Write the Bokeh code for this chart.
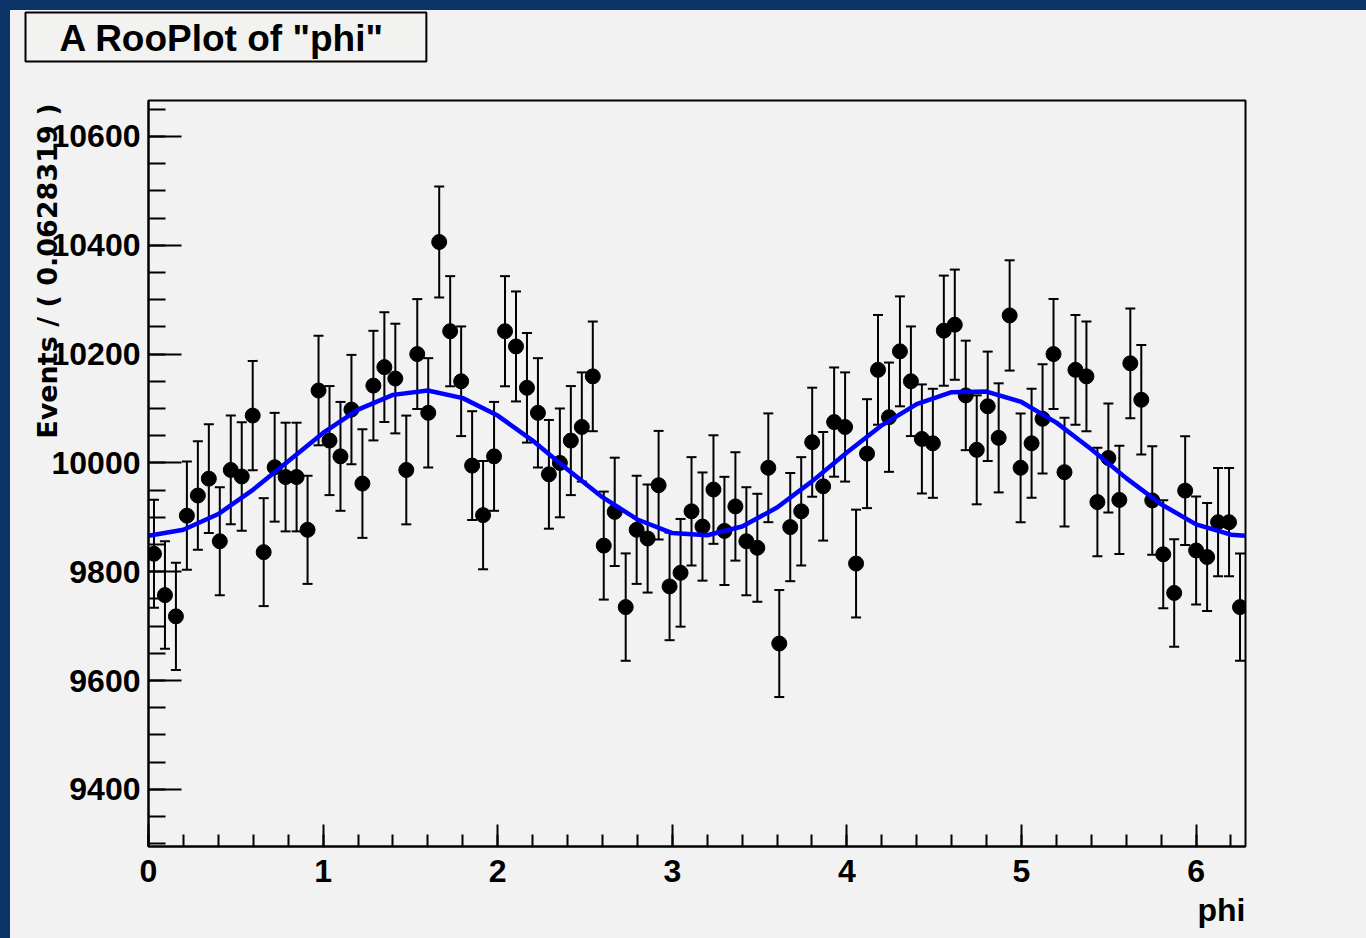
import numpy as np
from bokeh.plotting import figure
from bokeh.models import (Range1d, FixedTicker, ColumnDataSource, Whisker, Title,
                          TeeHead, GlobalInlineStyleSheet, InlineStyleSheet)
from bokeh.embed import file_html
from bokeh.resources import INLINE

# ---------------- data ----------------
n_bins = 100
phi_min = 0.0
phi_max = 6.283185
counts = [9833, 9757, 9718, 9903, 9940, 9971, 9856, 9987, 9975, 10087,
          9836, 9992, 9974, 9974, 9877, 10133, 10041, 10012, 10098, 9962,
          10142, 10176, 10155, 9987, 10200, 10092, 10406, 10242, 10150, 9995,
          9904, 10012, 10242, 10214, 10138, 10092, 9979, 10000, 10041, 10066,
          10159, 9848, 9910, 9735, 9877, 9861, 9959, 9773, 9798, 9911,
          9883, 9951, 9875, 9920, 9856, 9844, 9991, 9668, 9882, 9911,
          10038, 9957, 10075, 10066, 9815, 10017, 10171, 10084, 10205, 10150,
          10044, 10036, 10243, 10254, 10124, 10024, 10104, 10046, 10271, 9991,
          10036, 10081, 10200, 9983, 10171, 10159, 9928, 10009, 9932, 10183,
          10116, 9931, 9832, 9761, 9949, 9839, 9827, 9891, 9891, 9735]

curve_phi = [0.0, 0.2, 0.4, 0.6, 0.8, 1.0, 1.2, 1.4, 1.6, 1.8, 2.0, 2.2, 2.4,
             2.6, 2.8, 3.0, 3.2, 3.4, 3.6, 3.8, 4.0, 4.2, 4.4, 4.6, 4.8, 5.0,
             5.2, 5.4, 5.6, 5.8, 6.0, 6.2, 6.283185]
curve_val = [9866, 9877, 9906, 9951, 10003, 10055, 10098, 10125, 10133, 10119,
             10087, 10041, 9988, 9937, 9896, 9871, 9867, 9883, 9918, 9966,
             10019, 10069, 10108, 10130, 10131, 10112, 10074, 10025, 9972,
             9924, 9887, 9868, 9866]

x_major = [0, 1, 2, 3, 4, 5, 6]
y_major = [9400, 9600, 9800, 10000, 10200, 10400, 10600]

title_text = 'A RooPlot of "phi"'
y_title = "Events / ( 0.0628319 )"
x_title = "phi"

# ---------------- derived ----------------
bin_w = (phi_max - phi_min) / n_bins
centers = phi_min + (np.arange(n_bins) + 0.5) * bin_w
vals = np.array(counts, dtype=float)
errs = np.sqrt(vals)
src = ColumnDataSource(dict(x=centers, y=vals, lo=vals - errs, hi=vals + errs,
                            xl=centers - bin_w / 2, xr=centers + bin_w / 2))

BG = "#f2f2f2"
TITLE_BG = "#f2f2f1"
BLUE_FRAME = "#0b3467"
FONT = "Liberation Sans"

p = figure(width=1356, height=925, output_backend="svg", toolbar_location=None,
           x_range=Range1d(phi_min, phi_max), y_range=Range1d(9295, 10666),
           min_border_left=138, min_border_right=121, min_border_top=90,
           min_border_bottom=89)
p.margin = (10, 0, 0, 10)
shadow_css = ('[fill*="241"], [fill*="f2f2f1" i], [style*="242, 241"], '
              '[style*="f2f2f1" i] { filter: drop-shadow(3px 3px 0 #000); }')
p.stylesheets = [
    GlobalInlineStyleSheet(css=(
        "html{min-height:100%;background:"
        f"linear-gradient({BLUE_FRAME},{BLUE_FRAME}) 0 0/100% 10px no-repeat,"
        f"linear-gradient({BLUE_FRAME},{BLUE_FRAME}) 0 0/10px 100% no-repeat,"
        f"{BG} !important;}}"
        "body{background:transparent !important;}" + shadow_css)),
    InlineStyleSheet(css=shadow_css),
]

p.background_fill_color = BG
p.border_fill_color = BG
p.outline_line_color = "black"
p.outline_line_width = 2
p.xgrid.visible = False
p.ygrid.visible = False

# title box (+ spacer between title and frame)
p.title.text = title_text
p.title.align = "left"
p.title.offset = -123
p.title.standoff = 0
p.title.text_font = FONT
p.title.text_font_style = "bold"
p.title.text_font_size = "37px"
p.title.text_color = "black"
p.title.background_fill_color = TITLE_BG
p.title.border_line_color = "black"
p.title.border_line_width = 2
p.title.padding = dict(left=34, right=42, top=5, bottom=3)
p.add_layout(Title(text=" ", text_font_size="1px", standoff=36), "above")

# axes
x_minor = list(np.round(np.arange(0, 6.3, 0.2), 2))
y_minor = list(range(9300, 10700, 50))
p.xaxis.ticker = FixedTicker(ticks=x_major, minor_ticks=x_minor)
p.yaxis.ticker = FixedTicker(ticks=y_major, minor_ticks=y_minor)
for ax in (p.xaxis[0], p.yaxis[0]):
    ax.axis_line_color = "black"
    ax.axis_line_width = 2
    ax.major_tick_line_color = "black"
    ax.major_tick_line_width = 2
    ax.minor_tick_line_color = "black"
    ax.minor_tick_line_width = 2
    ax.major_tick_out = 0
    ax.minor_tick_out = 0
    ax.major_label_text_font = FONT
    ax.major_label_text_font_style = "bold"
    ax.major_label_text_font_size = "32px"
    ax.major_label_text_color = "black"
p.xaxis.major_tick_in = 22
p.xaxis.minor_tick_in = 12
p.yaxis.major_tick_in = 33
p.yaxis.minor_tick_in = 17
p.xaxis.major_label_standoff = 13
p.yaxis.major_label_standoff = 8

# axis titles (ROOT style: aligned to the axis end)
p.add_layout(Title(text=x_title, align="right", offset=0, standoff=10,
                   text_font=FONT, text_font_style="bold",
                   text_font_size="32px", text_color="black"), "below")
p.add_layout(Title(text=y_title, align="right", offset=3, standoff=-29,
                   text_font="DejaVu Sans", text_font_style="bold",
                   text_font_size="27px", text_color="black"), "left")

# data: error bars + markers
p.segment(x0="xl", y0="y", x1="xr", y1="y", source=src, line_color="black",
          line_width=2)
p.add_layout(Whisker(base="x", lower="lo", upper="hi", source=src,
                     dimension="height", line_color="black", line_width=2,
                     upper_head=TeeHead(size=10, line_width=2, line_color="black"),
                     lower_head=TeeHead(size=10, line_width=2, line_color="black")))
p.scatter(x="x", y="y", source=src, marker="circle", size=15,
          fill_color="black", line_color="black")

# pdf curve
p.line(curve_phi, curve_val, line_color="#0000ff", line_width=4.5)

open("out.html", "w").write(file_html(p, INLINE))
